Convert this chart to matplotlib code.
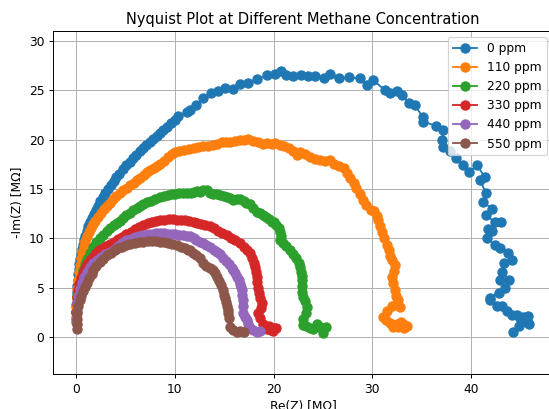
import matplotlib
matplotlib.use("Agg")
import matplotlib.pyplot as plt

labels = ["0 ppm", "110 ppm", "220 ppm", "330 ppm", "440 ppm", "550 ppm"]

pts_0 = [(0.0,2.5),(0.02,3.2),(0.05,3.9),(0.08,4.6),(0.12,5.2),(0.17,5.8),(0.22,6.4),(0.28,6.9),(0.35,7.4),(0.42,7.9),
 (0.5,8.4),(0.6,8.9),(0.7,9.3),(0.82,9.8),(0.95,10.25),(1.1,10.7),(1.25,11.2),(1.4,11.6),(1.6,12.1),(1.8,12.5),
 (2.0,12.9),(2.2,13.3),(2.45,13.75),(2.7,14.15),(2.95,14.6),(3.2,15.0),(3.5,15.4),(3.8,15.8),(4.1,16.2),(4.4,16.55),
 (4.8,17.0),(5.1,17.4),(5.45,17.75),(5.8,18.1),(6.1,18.45),(6.5,18.8),(6.8,19.1),(7.1,19.45),(7.45,19.75),(7.8,20.05),
 (8.2,20.4),(8.5,20.65),(8.85,21.0),(9.2,21.3),(9.6,21.65),(10.0,22.0),(10.3,22.4),(11.2,22.75),(11.5,23.0),(12.2,23.5),
 (12.9,24.2),(13.7,24.7),(14.4,24.9),(15.1,25.2),(15.9,25.1),(16.6,25.6),(17.4,25.7),(18.3,26.1),(19.3,26.5),(20.15,26.6),
 (20.8,26.9),(21.3,26.5),(22.0,26.4),(22.8,26.5),(23.5,26.4),(24.2,26.4),(25.1,26.2),(25.7,26.6),(26.6,26.2),(27.6,26.3),
 (28.8,26.2),(29.5,25.5),(30.1,26.0),(31.3,25.0),(31.8,24.7),(32.5,24.9),(33.0,24.5),(33.7,23.7),(34.3,23.5),(35.1,22.3),
 (35.1,21.8),(36.5,21.4),(37.2,21.0),(37.1,20.0),(37.2,19.2),(37.9,18.8),(38.5,18.1),(39.2,17.4),(39.8,16.7),(40.6,17.4),
 (41.4,16.2),(40.9,15.9),(41.5,14.6),(41.2,13.7),(42.1,13.0),(41.5,12.4),(42.4,11.6),(43.0,11.7),(41.7,10.9),(42.1,10.7),
 (41.6,10.0),(42.4,9.3),(42.9,9.0),(43.7,8.5),(44.1,7.8),(43.3,7.5),(43.1,6.6),(43.8,5.8),(42.9,5.8),(43.4,5.0),
 (42.8,4.5),(41.9,4.0),(41.9,3.7),(42.6,3.1),(43.1,3.1),(43.6,2.6),(44.1,2.2),(44.7,2.2),(45.3,2.0),(45.8,2.1),
 (45.0,1.9),(45.8,1.4),(44.9,1.1),(44.3,0.55),(45.4,1.6),(45.9,1.3)]

pts_110 = [(0.0,2.0),(0.03,3.0),(0.07,4.0),(0.12,4.9),(0.2,5.8),(0.3,6.6),(0.4,7.3),(0.52,8.0),(0.65,8.6),(0.8,9.2),
 (0.95,9.7),(1.1,10.2),(1.3,10.6),(1.5,11.0),(1.7,11.4),(1.95,11.8),(2.2,12.2),(2.5,12.6),(2.8,12.95),(3.1,13.3),
 (3.4,13.6),(3.75,13.95),(4.1,14.25),(4.45,14.55),(4.8,14.85),(5.15,15.1),(5.5,15.4),(5.85,15.65),(6.2,15.9),(6.5,16.1),
 (6.85,16.4),(7.2,16.7),(7.5,16.9),(7.85,17.1),(8.2,17.35),(8.5,17.55),(8.9,17.8),(9.35,18.2),(9.7,18.5),(10.0,18.7),
 (10.45,18.8),(10.9,18.9),(11.4,19.0),(11.9,19.15),(12.4,19.2),(12.9,19.3),(13.4,19.3),(13.9,19.4),(14.3,19.6),(14.75,19.75),
 (15.2,19.8),(15.6,19.8),(16.1,19.9),(16.6,20.0),(17.0,19.95),(17.4,20.05),(17.9,19.9),(18.4,19.8),(18.9,19.6),(19.3,19.65),
 (19.8,19.6),(20.2,19.7),(20.7,19.5),(21.1,19.3),(21.6,19.1),(22.0,18.8),(22.4,18.4),(22.7,18.75),(23.2,18.5),(23.7,18.2),
 (24.2,18.0),(24.7,17.9),(25.2,17.85),(25.7,17.9),(26.1,17.5),(26.6,17.3),(27.1,17.1),(27.4,16.6),(27.75,16.1),(28.1,15.6),
 (28.4,15.1),(28.75,14.5),(29.1,13.9),(29.4,13.4),(29.9,12.9),(30.2,12.8),(30.45,12.3),(30.6,11.85),(30.8,11.2),(31.0,10.6),
 (31.2,10.0),(31.5,9.3),(31.7,8.8),(31.8,8.2),(32.0,7.8),(32.3,7.3),(32.2,6.7),(32.0,6.1),(32.1,5.5),(32.3,4.75),
 (32.4,4.2),(32.6,3.75),(32.8,3.0),(32.5,3.4),(32.0,3.1),(31.5,2.6),(31.1,2.05),(31.4,1.7),(31.8,1.4),(32.1,1.05),
 (32.5,1.3),(32.8,1.2),(33.1,1.3),(33.5,1.1),(33.2,0.9),(32.9,1.5),(32.6,1.0)]

pts_220 = [(0.0,1.5),(0.03,2.5),(0.07,3.5),(0.15,4.3),(0.28,4.8),(0.45,5.5),(0.6,6.2),(0.74,6.8),(0.95,7.4),(1.15,7.9),
 (1.4,8.5),(1.75,9.15),(2.05,9.6),(2.4,10.0),(2.75,10.35),(3.1,10.7),(3.45,11.0),(3.85,11.3),(4.2,11.55),(4.45,11.8),
 (4.8,12.1),(5.1,12.4),(5.45,12.6),(5.8,12.85),(6.2,13.05),(6.5,13.3),(6.8,13.5),(7.2,13.65),(7.6,13.8),(8.0,13.95),
 (8.5,14.2),(8.9,14.3),(9.3,14.4),(9.7,14.45),(10.0,14.5),(10.4,14.55),(10.8,14.55),(11.2,14.6),(11.6,14.6),(11.9,14.7),
 (12.3,14.75),(12.55,14.7),(12.9,14.9),(13.3,14.85),(13.6,14.6),(13.9,14.5),(14.3,14.5),(14.6,14.4),(15.0,14.3),(15.3,14.2),
 (15.6,14.1),(15.9,13.9),(16.3,14.0),(16.6,13.95),(17.0,13.8),(17.2,13.6),(17.6,13.5),(17.9,13.1),(18.3,12.7),(18.6,12.6),
 (18.9,12.4),(19.2,12.2),(19.5,12.0),(19.8,11.7),(20.0,11.65),(20.3,11.3),(20.6,11.0),(20.7,10.6),(20.75,10.2),(20.7,9.8),
 (21.0,9.5),(21.3,9.2),(21.7,8.8),(22.0,8.4),(22.3,8.0),(22.6,7.5),(22.7,7.1),(22.8,6.6),(22.85,6.2),(22.9,5.8),
 (22.85,5.2),(22.9,4.6),(23.0,4.1),(23.2,3.6),(23.4,3.0),(23.3,2.4),(23.0,1.8),(23.0,1.2),(23.3,1.1),(23.7,0.9),
 (24.0,0.8),(24.4,1.3),(24.7,1.05),(25.0,0.7),(25.0,0.45),(25.3,1.0)]

pts_330 = [(0.0,2.5),(0.05,3.3),(0.12,4.1),(0.22,4.8),(0.35,5.4),(0.5,6.0),(0.7,6.5),(0.9,7.0),(1.15,7.4),(1.4,7.8),
 (1.7,8.15),(2.0,8.5),(2.35,8.8),(2.7,9.0),(3.05,9.2),(3.45,9.4),(3.85,9.65),(4.25,9.9),(4.7,10.1),(5.1,10.4),
 (5.55,10.65),(6.0,10.9),(6.4,11.1),(6.8,11.35),(7.25,11.5),(7.7,11.65),(8.1,11.75),(8.5,11.85),(8.95,11.9),(9.4,11.95),
 (9.8,11.95),(10.2,11.9),(10.6,11.9),(11.0,11.85),(11.45,11.8),(11.9,11.7),(12.3,11.55),(12.7,11.45),(13.1,11.35),(13.6,11.2),
 (14.0,11.0),(14.4,10.75),(14.8,10.5),(15.3,10.3),(15.7,10.0),(16.1,9.8),(16.6,9.5),(17.0,9.15),(17.3,8.85),(17.6,8.5),
 (17.85,8.0),(18.0,7.5),(18.1,7.1),(18.2,6.6),(18.3,6.1),(18.35,5.6),(18.45,5.0),(18.5,4.5),(18.6,4.0),(18.8,3.4),
 (18.7,2.9),(18.45,2.4),(18.6,1.9),(18.9,1.3),(19.3,0.8),(19.7,0.7),(20.0,0.95),(20.3,0.9),(19.9,0.6),(19.5,1.1)]

pts_440 = [(0.0,1.8),(0.05,2.6),(0.12,3.4),(0.25,4.2),(0.4,4.9),(0.6,5.5),(0.85,6.1),(1.1,6.6),(1.4,7.05),(1.75,7.45),
 (2.1,7.8),(2.5,8.1),(2.95,8.4),(3.45,8.65),(3.9,8.95),(4.3,9.2),(4.7,9.5),(5.1,9.8),(5.55,9.95),(6.0,10.1),
 (6.4,10.2),(6.8,10.3),(7.25,10.4),(7.7,10.45),(8.1,10.5),(8.5,10.5),(8.9,10.5),(9.3,10.45),(9.7,10.45),(10.0,10.4),
 (10.4,10.35),(10.8,10.3),(11.2,10.25),(11.5,10.2),(11.9,10.0),(12.2,9.85),(12.55,9.65),(12.9,9.5),(13.2,9.3),(13.6,9.1),
 (13.95,8.85),(14.3,8.6),(14.6,8.4),(14.9,8.0),(15.2,7.7),(15.5,7.35),(15.75,7.0),(15.9,6.8),(16.1,6.45),(16.3,6.1),
 (16.5,5.75),(16.6,5.4),(16.75,5.05),(16.8,4.75),(16.85,4.25),(16.9,3.75),(16.9,3.1),(16.95,2.4),(17.1,2.0),(17.3,1.7),
 (17.45,1.3),(17.6,0.9),(17.95,0.7),(18.3,0.55),(18.6,0.6)]

pts_550 = [(0.07,0.8),(0.08,1.3),(0.1,1.8),(0.15,2.4),(0.24,3.1),(0.38,3.7),(0.55,4.2),(0.72,4.65),(0.9,5.1),(1.1,5.5),
 (1.35,5.95),(1.6,6.4),(1.75,6.8),(2.05,7.2),(2.4,7.55),(2.75,7.95),(3.1,8.3),(3.5,8.55),(3.9,8.8),(4.3,9.0),
 (4.7,9.15),(5.1,9.3),(5.5,9.4),(5.95,9.5),(6.4,9.6),(6.8,9.65),(7.25,9.7),(7.7,9.7),(8.1,9.7),(8.5,9.65),
 (8.9,9.6),(9.3,9.5),(9.7,9.4),(10.2,9.3),(10.6,9.15),(11.0,9.0),(11.3,8.85),(11.5,8.8),(11.85,8.5),(12.2,8.3),
 (12.55,8.0),(12.9,7.5),(13.2,7.2),(13.55,6.95),(13.9,6.8),(14.1,6.5),(14.25,6.1),(14.45,5.7),(14.65,5.25),(14.9,4.75),
 (15.0,4.3),(15.1,3.9),(15.2,3.5),(15.3,3.1),(15.35,2.7),(15.4,2.4),(15.5,1.9),(15.6,1.05),(15.9,0.7),(16.3,0.55),
 (16.6,0.6),(17.0,0.55)]

series = [pts_0, pts_110, pts_220, pts_330, pts_440, pts_550]

DPI = 88
fig = plt.figure(figsize=(549/DPI, 409/DPI), dpi=DPI)
ax = fig.add_axes([53/549, 35/409, 500/549, 343/409])
for pts, lab in zip(series, labels):
    xs = [p[0] for p in pts]
    ys = [p[1] for p in pts]
    ax.plot(xs, ys, '-o', markersize=7.5, label=lab)
ax.set_xlim(-2.33, 48.3)
ax.set_ylim(-3.75, 31.0)
ax.set_xticks([0, 10, 20, 30, 40])
ax.set_yticks([0, 5, 10, 15, 20, 25, 30])
ax.grid(True)
ax.set_title("Nyquist Plot at Different Methane Concentration")
ax.set_xlabel("Re(Z) [MΩ]")
ax.set_ylabel("-Im(Z) [MΩ]")
ax.legend(loc="upper right")
fig.savefig("out.png", dpi=DPI)
